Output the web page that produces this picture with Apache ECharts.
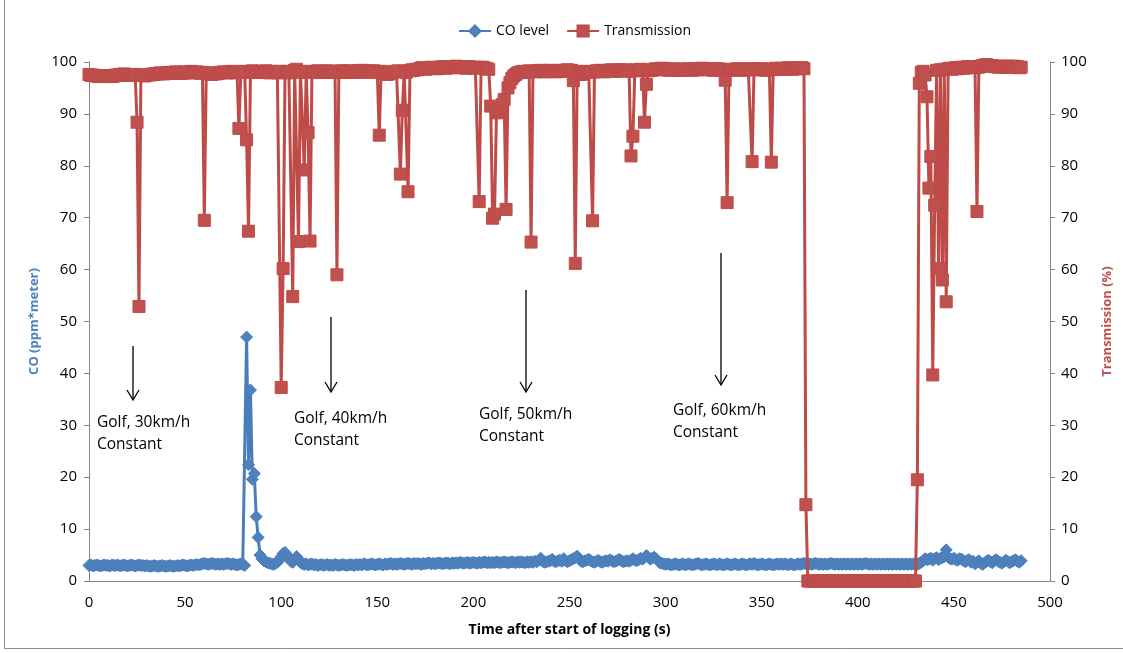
<!DOCTYPE html>
<html>
<head>
<meta charset="utf-8">
<script src="https://cdn.jsdelivr.net/npm/echarts@6/dist/echarts.min.js"></script>
<style>
  html, body { margin: 0; padding: 0; background: #ffffff; }
  #chart { width: 1123px; height: 653px; }
</style>
</head>
<body>
<div id="chart"></div>
<script>
// Samples logged once per second, starting at t = 0 s
const sampleStepSeconds = 1;

// CO level (ppm*meter), t = 0 .. 485 s
const coLevel = [
  3.0, 3.1, 2.9, 3.0, 3.1, 3.0, 2.9, 3.0, 3.1, 3.0,
  3.0, 2.9, 3.1, 3.0, 3.0, 3.1, 2.9, 3.0, 3.1, 3.0,
  2.9, 3.0, 3.1, 3.0, 2.9, 3.0, 3.1, 3.0, 3.0, 2.9,
  3.0, 2.9, 2.8, 2.9, 3.0, 2.9, 2.8, 2.9, 3.0, 2.9,
  2.8, 2.9, 3.0, 2.9, 2.8, 2.9, 3.0, 2.9, 3.0, 3.1,
  3.0, 2.9, 3.0, 3.1, 3.0, 3.1, 3.2, 3.1, 3.2, 3.3,
  3.4, 3.3, 3.2, 3.3, 3.4, 3.3, 3.2, 3.3, 3.2, 3.3,
  3.2, 3.3, 3.4, 3.3, 3.2, 3.3, 3.2, 3.1, 3.2, 3.3,
  3.2, 3.0, 47.0, 22.4, 36.8, 19.6, 20.7, 12.4, 8.4, 5.0,
  4.3, 3.9, 3.7, 3.5, 3.4, 3.3, 3.2, 3.4, 3.6, 4.1,
  4.7, 5.3, 5.5, 5.0, 4.3, 3.8, 3.6, 4.2, 4.7, 4.2,
  3.6, 3.3, 3.2, 3.3, 3.1, 3.2, 3.3, 3.1, 3.2, 3.0,
  3.1, 3.2, 3.0, 3.1, 3.2, 3.0, 3.1, 3.0, 3.2, 3.1,
  3.0, 3.1, 3.2, 3.1, 3.0, 3.1, 3.2, 3.1, 3.0, 3.2,
  3.1, 3.2, 3.1, 3.3, 3.2, 3.1, 3.2, 3.3, 3.2, 3.1,
  3.2, 3.3, 3.2, 3.1, 3.3, 3.2, 3.3, 3.4, 3.2, 3.3,
  3.2, 3.3, 3.4, 3.3, 3.2, 3.3, 3.4, 3.3, 3.2, 3.4,
  3.3, 3.4, 3.3, 3.2, 3.4, 3.3, 3.4, 3.5, 3.3, 3.4,
  3.3, 3.4, 3.5, 3.4, 3.3, 3.4, 3.5, 3.4, 3.3, 3.5,
  3.4, 3.5, 3.4, 3.6, 3.5, 3.4, 3.5, 3.6, 3.4, 3.5,
  3.6, 3.5, 3.4, 3.6, 3.5, 3.6, 3.7, 3.5, 3.6, 3.5,
  3.6, 3.5, 3.7, 3.6, 3.5, 3.6, 3.7, 3.6, 3.5, 3.6,
  3.7, 3.6, 3.5, 3.7, 3.6, 3.7, 3.6, 3.5, 3.7, 3.6,
  3.7, 3.6, 3.8, 3.7, 4.0, 4.4, 3.8, 3.6, 3.7, 3.8,
  3.9, 4.2, 3.8, 3.7, 3.9, 4.0, 3.8, 4.3, 3.9, 3.7,
  3.9, 4.1, 4.3, 4.5, 4.8, 4.2, 3.8, 3.7, 3.9, 4.0,
  4.2, 3.9, 3.7, 3.6, 3.8, 4.0, 3.7, 3.6, 3.8, 3.9,
  3.8, 4.1, 3.9, 3.7, 3.8, 4.0, 4.2, 3.9, 3.7, 3.8,
  3.9, 3.8, 4.0, 4.3, 4.0, 3.9, 4.1, 4.4, 4.2, 4.5,
  4.9, 4.6, 4.2, 4.4, 4.6, 4.3, 3.9, 3.5, 3.4, 3.3,
  3.2, 3.3, 3.2, 3.1, 3.2, 3.3, 3.2, 3.1, 3.2, 3.3,
  3.1, 3.2, 3.3, 3.2, 3.1, 3.2, 3.3, 3.4, 3.2, 3.1,
  3.2, 3.3, 3.2, 3.1, 3.2, 3.3, 3.2, 3.1, 3.3, 3.2,
  3.1, 3.2, 3.3, 3.2, 3.1, 3.2, 3.3, 3.2, 3.1, 3.2,
  3.3, 3.2, 3.1, 3.2, 3.3, 3.2, 3.4, 3.2, 3.1, 3.2,
  3.3, 3.2, 3.1, 3.2, 3.3, 3.2, 3.1, 3.2, 3.3, 3.2,
  3.3, 3.2, 3.3, 3.2, 3.1, 3.3, 3.2, 3.1, 3.2, 3.3,
  3.2, 3.3, 3.4, 3.3, 3.2, 3.3, 3.2, 3.3, 3.4, 3.3,
  3.2, 3.3, 3.2, 3.3, 3.2, 3.3, 3.4, 3.3, 3.2, 3.3,
  3.2, 3.3, 3.2, 3.3, 3.2, 3.3, 3.2, 3.3, 3.2, 3.3,
  3.2, 3.3, 3.2, 3.3, 3.4, 3.3, 3.2, 3.3, 3.2, 3.3,
  3.2, 3.3, 3.2, 3.3, 3.2, 3.3, 3.2, 3.3, 3.2, 3.3,
  3.2, 3.3, 3.2, 3.3, 3.2, 3.3, 3.2, 3.3, 3.2, 3.3,
  3.3, 3.2, 3.4, 3.6, 3.9, 4.3, 4.1, 4.2, 4.4, 4.0,
  4.3, 4.5, 4.1, 4.4, 4.5, 4.7, 6.0, 4.6, 4.3, 4.2,
  4.4, 4.1, 4.0, 4.3, 4.2, 3.9, 3.7, 4.0, 4.1, 3.6,
  3.8, 3.3, 3.6, 3.9, 3.4, 3.2, 3.5, 3.8, 4.0, 3.7,
  3.5, 3.9, 4.1, 3.8, 3.6, 3.4, 3.7, 4.0, 3.8, 3.5,
  3.7, 3.9, 4.1, 3.8, 3.6, 3.9
];

// Transmission (%), t = 0 .. 485 s
const transmission = [
  97.6, 97.4, 97.5, 97.3, 97.4, 97.2, 97.3, 97.4, 97.3, 97.2,
  97.3, 97.4, 97.2, 97.3, 97.5, 97.4, 97.6, 97.5, 97.7, 97.6,
  97.5, 97.6, 97.4, 97.5, 97.6, 88.4, 52.9, 97.4, 97.5, 97.3,
  97.4, 97.6, 97.5, 97.7, 97.6, 97.8, 97.7, 97.9, 97.8, 97.7,
  97.9, 97.8, 98.0, 97.8, 97.9, 98.1, 97.9, 98.0, 97.8, 97.9,
  98.1, 97.9, 98.0, 98.2, 98.0, 97.9, 98.1, 98.0, 97.8, 98.0,
  69.5, 97.9, 97.7, 97.8, 97.6, 97.9, 97.7, 97.8, 98.0, 97.9,
  98.1, 98.0, 97.9, 98.1, 98.2, 98.0, 97.9, 98.1, 87.2, 98.0,
  98.2, 98.1, 85.0, 67.4, 98.0, 98.3, 98.1, 98.2, 98.0, 98.1,
  98.2, 98.0, 98.3, 98.1, 97.9, 98.2, 98.0, 98.1, 97.9, 98.2,
  37.3, 60.2, 98.0, 98.2, 97.9, 98.1, 54.8, 98.4, 98.6, 65.4,
  98.2, 98.0, 79.2, 98.1, 86.4, 65.5, 98.2, 98.0, 98.1, 98.3,
  98.1, 98.2, 98.0, 98.1, 98.3, 98.2, 98.0, 98.1, 98.2, 59.0,
  98.1, 98.3, 98.2, 98.0, 98.2, 98.3, 98.1, 98.2, 98.0, 98.1,
  98.3, 98.2, 98.4, 98.2, 98.0, 98.3, 98.2, 98.1, 98.3, 98.2,
  98.0, 85.9, 98.2, 98.0, 97.8, 97.6, 97.7, 97.9, 98.0, 98.2,
  98.1, 98.3, 78.4, 90.7, 98.2, 98.0, 75.0, 98.3, 98.5, 98.4,
  98.6, 98.5, 98.7, 98.9, 98.8, 98.6, 98.7, 98.9, 99.0, 98.8,
  98.9, 98.7, 98.8, 99.0, 99.1, 98.9, 98.8, 99.0, 99.1, 98.9,
  99.0, 99.2, 99.0, 98.9, 99.1, 99.0, 98.8, 99.0, 99.1, 98.9,
  98.8, 99.0, 98.9, 73.1, 98.9, 99.0, 98.8, 98.7, 98.6, 91.5,
  69.9, 70.7, 90.2, 90.6, 91.0, 91.8, 92.8, 71.6, 95.0, 96.0,
  96.8, 97.3, 97.6, 97.9, 98.0, 98.1, 98.2, 98.0, 98.1, 98.3,
  65.3, 98.2, 98.1, 98.3, 98.2, 98.4, 98.3, 98.1, 98.2, 98.3,
  98.4, 98.2, 98.3, 98.1, 98.2, 98.4, 98.3, 98.2, 98.4, 98.5,
  98.3, 98.4, 96.4, 61.2, 98.2, 98.0, 97.6, 97.8, 98.0, 98.1,
  98.2, 98.0, 69.4, 98.1, 98.3, 98.2, 98.4, 98.3, 98.1, 98.2,
  98.4, 98.3, 98.5, 98.4, 98.2, 98.3, 98.5, 98.4, 98.3, 98.5,
  98.4, 98.2, 81.9, 85.7, 98.3, 98.5, 98.4, 98.6, 98.4, 88.4,
  95.7, 98.3, 98.5, 98.4, 98.6, 98.7, 98.5, 98.6, 98.8, 98.7,
  98.5, 98.6, 98.4, 98.5, 98.7, 98.6, 98.4, 98.5, 98.6, 98.4,
  98.5, 98.7, 98.6, 98.5, 98.4, 98.6, 98.7, 98.5, 98.6, 98.8,
  98.7, 98.5, 98.6, 98.7, 98.5, 98.4, 98.6, 98.7, 98.5, 98.6,
  98.4, 96.5, 72.9, 98.5, 98.6, 98.4, 98.5, 98.7, 98.6, 98.5,
  98.6, 98.4, 98.5, 98.7, 98.6, 80.8, 98.5, 98.7, 98.6, 98.5,
  98.7, 98.6, 98.4, 98.6, 98.5, 80.7, 98.6, 98.8, 98.7, 98.6,
  98.8, 98.7, 98.6, 98.8, 98.9, 98.7, 98.6, 98.8, 98.9, 98.7,
  98.8, 98.9, 98.7, 14.7, 0, 0, 0, 0, 0, 0,
  0, 0, 0, 0, 0, 0, 0, 0, 0, 0,
  0, 0, 0, 0, 0, 0, 0, 0, 0, 0,
  0, 0, 0, 0, 0, 0, 0, 0, 0, 0,
  0, 0, 0, 0, 0, 0, 0, 0, 0, 0,
  0, 0, 0, 0, 0, 0, 0, 0, 0, 0,
  0, 19.5, 95.9, 98.0, 98.2, 97.5, 93.3, 75.7, 81.8, 39.7,
  72.4, 98.4, 60.2, 98.5, 58.0, 98.6, 53.8, 98.7, 98.8, 98.6,
  98.8, 98.9, 98.7, 98.9, 99.0, 98.8, 98.9, 99.1, 98.9, 99.0,
  99.1, 98.9, 71.2, 99.0, 99.2, 99.3, 99.4, 99.5, 99.3, 99.2,
  99.3, 99.1, 99.2, 99.0, 99.1, 99.2, 99.0, 99.1, 99.2, 99.0,
  99.1, 99.2, 99.0, 99.1, 98.9, 99.0
];

// Axis tick settings
const xTicks = { min: 0, max: 500, interval: 50 };
const yTicks = { min: 0, max: 100, interval: 10 };

// Annotation texts
const annotations = [
  'Golf, 30km/h\nConstant',
  'Golf, 40km/h\nConstant',
  'Golf, 50km/h\nConstant',
  'Golf, 60km/h\nConstant'
];

const FONT = '"Open Sans", "Liberation Sans", sans-serif';
const BLUE = '#4F81BD', BLUE_LINE = '#4A7EBB';
const RED = '#C0504D', RED_LINE = '#BE4B48';
const AXIS_GREY = '#868686';

const coPairs = coLevel.map((v, i) => [i * sampleStepSeconds, v]);
const trPairs = transmission.map((v, i) => [i * sampleStepSeconds, v]);

// annotation layout (pixels)
const arrowDefs = [
  { x: 133, y1: 346, y2: 400 },
  { x: 331, y1: 317, y2: 392 },
  { x: 526, y1: 290, y2: 392 },
  { x: 721, y1: 253, y2: 385 }
];
const textPos = [
  { x: 97, y: 412 },
  { x: 294, y: 408 },
  { x: 479, y: 404 },
  { x: 673, y: 400 }
];

const graphics = [
  {
    type: 'rect', silent: true, z: -1,
    shape: { x: 4.5, y: -5, width: 1130, height: 653.5 },
    style: { fill: 'none', stroke: '#8C8C8C', lineWidth: 1 }
  }
];
arrowDefs.forEach(a => {
  graphics.push({
    type: 'line', silent: true,
    shape: { x1: a.x, y1: a.y1, x2: a.x, y2: a.y2 },
    style: { stroke: '#000', lineWidth: 1.3 }
  });
  graphics.push({
    type: 'polyline', silent: true,
    shape: { points: [[a.x - 6, a.y2 - 10], [a.x, a.y2], [a.x + 6, a.y2 - 10]] },
    style: { stroke: '#000', lineWidth: 1.3, fill: 'none' }
  });
});
annotations.forEach((t, i) => {
  graphics.push({
    type: 'text', silent: true,
    x: textPos[i].x, y: textPos[i].y,
    style: {
      text: t, fill: '#000', fontSize: 15.5, fontFamily: FONT,
      lineHeight: 22, verticalAlign: 'top', align: 'left'
    }
  });
});

const chart = echarts.init(document.getElementById('chart'), null, { renderer: 'canvas' });
chart.setOption({
  animation: false,
  backgroundColor: '#ffffff',
  textStyle: { fontFamily: FONT },
  legend: {
    left: 453, top: 19,
    itemWidth: 32, itemHeight: 14, itemGap: 17,
    textStyle: { fontSize: 14, color: '#000', fontFamily: FONT },
    data: ['CO level', 'Transmission']
  },
  grid: { left: 89, right: 73, top: 62, bottom: 72, containLabel: false },
  xAxis: {
    type: 'value', min: xTicks.min, max: xTicks.max, interval: xTicks.interval,
    name: 'Time after start of logging (s)', nameLocation: 'middle', nameGap: 42,
    nameTextStyle: { fontSize: 14, fontWeight: 'bold', color: '#000', fontFamily: FONT },
    axisLine: { show: true, lineStyle: { color: AXIS_GREY, width: 1 } },
    axisTick: { show: false },
    axisLabel: { fontSize: 15, color: '#000', margin: 14, fontFamily: FONT },
    splitLine: { show: false }
  },
  yAxis: [
    {
      type: 'value', position: 'left', min: yTicks.min, max: yTicks.max, interval: yTicks.interval,
      name: 'CO (ppm*meter)', nameLocation: 'middle', nameGap: 42, nameRotate: 90,
      nameTextStyle: { fontSize: 13, fontWeight: 'bold', color: BLUE, fontFamily: FONT },
      axisLine: { show: true, lineStyle: { color: AXIS_GREY, width: 1 } },
      axisTick: { show: true, length: 5, lineStyle: { color: AXIS_GREY } },
      axisLabel: { fontSize: 15, color: '#000', margin: 12, fontFamily: FONT },
      splitLine: { show: false }
    },
    {
      type: 'value', position: 'right', min: yTicks.min, max: yTicks.max, interval: yTicks.interval,
      name: 'Transmission (%)', nameLocation: 'middle', nameGap: 51, nameRotate: 90,
      nameTextStyle: { fontSize: 13, fontWeight: 'bold', color: RED, fontFamily: FONT },
      axisLine: { show: true, lineStyle: { color: AXIS_GREY, width: 1 } },
      axisTick: { show: true, length: 5, lineStyle: { color: AXIS_GREY } },
      axisLabel: { fontSize: 15, color: '#000', margin: 11, fontFamily: FONT },
      splitLine: { show: false }
    }
  ],
  series: [
    {
      name: 'CO level', type: 'line', yAxisIndex: 0, data: coPairs,
      symbol: 'diamond', symbolSize: 12, showSymbol: true, showAllSymbol: true,
      clip: false,
      lineStyle: { color: BLUE_LINE, width: 3 },
      itemStyle: { color: BLUE, borderColor: BLUE_LINE, borderWidth: 1 },
      z: 2
    },
    {
      name: 'Transmission', type: 'line', yAxisIndex: 1, data: trPairs,
      symbol: 'rect', symbolSize: 12, showSymbol: true, showAllSymbol: true,
      clip: false,
      lineStyle: { color: RED_LINE, width: 3 },
      itemStyle: { color: RED, borderColor: RED_LINE, borderWidth: 1 },
      z: 3
    }
  ],
  graphic: graphics
});
</script>
</body>
</html>
